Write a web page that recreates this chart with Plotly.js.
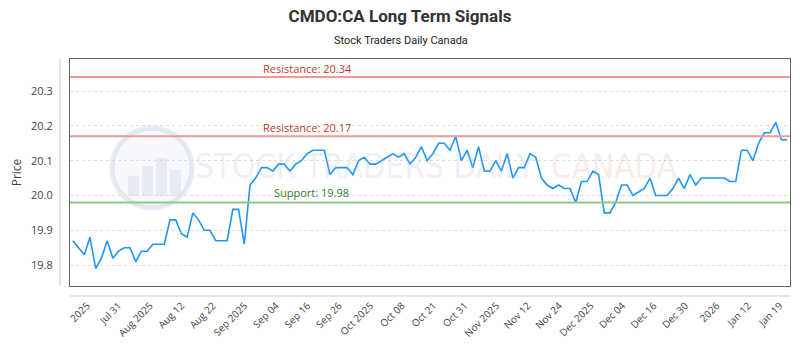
<!DOCTYPE html>
<html>
<head>
<meta charset="utf-8">
<script src="https://cdn.plot.ly/plotly-3.0.1.min.js"></script>
<style>html,body{margin:0;padding:0;background:#fff;}#chart{width:800px;height:350px;}</style>
</head>
<body>
<div id="chart"></div>
<script>
// ---- data ----
const prices = [19.87,19.85,19.83,19.88,19.79,19.82,19.87,19.82,19.84,19.85,19.85,19.81,19.84,19.84,19.86,19.86,19.86,19.93,19.93,19.89,19.88,19.95,19.93,19.90,19.90,19.87,19.87,19.87,19.96,19.96,19.86,
20.03,20.05,20.08,20.08,20.07,20.09,20.09,20.07,20.09,20.10,20.12,20.13,20.13,20.13,20.06,20.08,20.08,20.08,20.06,20.10,20.11,20.09,20.09,20.10,20.11,20.12,20.11,20.12,20.09,20.11,20.14,20.10,
20.12,20.15,20.15,20.13,20.17,20.10,20.13,20.08,20.14,20.07,20.07,20.10,20.07,20.12,20.05,20.08,20.08,20.12,20.11,20.05,20.03,20.02,20.03,20.02,20.02,19.98,20.04,20.04,20.07,20.06,19.95,19.95,
19.98,20.03,20.03,20.00,20.01,20.02,20.05,20.00,20.00,20.00,20.02,20.05,20.02,20.06,20.03,20.05,20.05,20.05,20.05,20.05,20.04,20.04,20.13,20.13,20.10,20.15,20.18,20.18,20.21,20.16,20.16];
const tickLabels = ["2025","Jul 31","Aug 2025","Aug 12","Aug 22","Sep 2025","Sep 04","Sep 16","Sep 26","Oct 2025","Oct 08","Oct 21","Oct 31","Nov 2025","Nov 12","Nov 24","Dec 2025","Dec 04","Dec 16","Dec 30","2026","Jan 12","Jan 19"];
const resistanceLevels = [20.34, 20.17];
const supportLevels = [19.98];
const yTicks = [19.8, 19.9, 20.0, 20.1, 20.2, 20.3];

// ---- layout helpers ----
const W = 800, H = 350, ML = 70, MR = 10, MT = 59, MB = 64;
const PW = W - ML - MR, PH = H - MT - MB;
const px = x => (x - ML) / PW;          // pixel -> paper x
const py = y => (H - MB - y) / PH;      // pixel -> paper y

const xIdx = prices.map((_, i) => i);
const tickFirst = 2.5, tickStep = (prices.length - 2.3 - tickFirst) / (tickLabels.length - 1);
const tickVals = tickLabels.map((_, i) => tickFirst + i * tickStep);

const shapes = [];
const annotations = [];

// offset axis lines
shapes.push({type:'line', xref:'paper', yref:'paper', x0:px(60), x1:px(60), y0:0, y1:1, line:{color:'#cccccc', width:1}});
shapes.push({type:'line', xref:'paper', yref:'paper', x0:0, x1:1, y0:py(296), y1:py(296), line:{color:'#cccccc', width:1}});

// watermark logo
shapes.push({type:'circle', xref:'paper', yref:'paper', layer:'below', x0:px(112), x1:px(192), y0:py(208), y1:py(128),
  line:{color:'rgba(200,210,230,0.45)', width:5}, fillcolor:'rgba(230,236,246,0.35)'});
[[128,176,139],[142,166,153],[156,158,167],[170,170,181]].forEach(b => {
  shapes.push({type:'rect', xref:'paper', yref:'paper', layer:'below', x0:px(b[0]), x1:px(b[2]), y0:py(196), y1:py(b[1]),
    line:{width:0}, fillcolor:'rgba(200,210,230,0.35)'});
});
annotations.push({xref:'paper', yref:'paper', x:px(365), y:py(166), text:'STOCK TRADERS DAILY', showarrow:false,
  font:{family:'Liberation Sans Narrow, DejaVu Sans Condensed, sans-serif', size:33, color:'rgba(175,190,215,0.22)'}, xanchor:'center', yanchor:'middle'});
annotations.push({xref:'paper', yref:'paper', x:px(614), y:py(166), text:'CANADA', showarrow:false,
  font:{family:'Liberation Sans Narrow, DejaVu Sans Condensed, sans-serif', size:33, color:'rgba(240,130,130,0.18)'}, xanchor:'center', yanchor:'middle'});

resistanceLevels.forEach(v => {
  shapes.push({type:'line', xref:'paper', yref:'y', x0:0, x1:1, y0:v, y1:v, line:{color:'#ef9a93', width:2}});
  annotations.push({xref:'paper', yref:'y', x:px(307), y:v, yshift:9, text:'Resistance: ' + v.toFixed(2), showarrow:false,
    font:{family:'Open Sans, sans-serif', size:11, color:'#c0392b'}, xanchor:'center', yanchor:'middle'});
});
supportLevels.forEach(v => {
  shapes.push({type:'line', xref:'paper', yref:'y', x0:0, x1:1, y0:v, y1:v, line:{color:'#8cc78c', width:2}});
  annotations.push({xref:'paper', yref:'y', x:px(311), y:v, yshift:10, text:'Support: ' + v.toFixed(2), showarrow:false,
    font:{family:'Open Sans, sans-serif', size:11, color:'#2e7d32'}, xanchor:'center', yanchor:'middle'});
});

// subtitle
annotations.push({xref:'paper', yref:'paper', x:px(401), y:py(40), text:'Stock Traders Daily Canada', showarrow:false,
  font:{family:'Roboto, sans-serif', size:11, color:'#222'}, xanchor:'center', yanchor:'middle'});

const trace = {
  x: xIdx, y: prices, type:'scatter', mode:'lines',
  line:{color:'#2196f3', width:1.6}, hoverinfo:'skip'
};

const layout = {
  width: W, height: H,
  margin:{l:ML, r:MR, t:MT, b:MB, pad:0},
  paper_bgcolor:'#fff', plot_bgcolor:'#fff',
  showlegend:false,
  title:{text:'CMDO:CA Long Term Signals', font:{family:'Roboto, sans-serif', size:17, color:'#333', weight:'bold'},
    xref:'container', x:0.5, xanchor:'center', yref:'container', y:1 - 16/H, yanchor:'middle'},
  xaxis:{range:[-0.5, prices.length - 0.5], tickmode:'array', tickvals:tickVals, ticktext:tickLabels,
    tickangle:-45, ticks:'', showgrid:false, zeroline:false,
    showline:true, mirror:true, linecolor:'#666', linewidth:1,
    tickfont:{family:'Open Sans, sans-serif', size:10, color:'#444'}, ticklabelstandoff:9},
  yaxis:{range:[19.74, 20.392], tickmode:'array', tickvals:yTicks, ticktext:yTicks.map(v => v.toFixed(1)),
    ticks:'', showgrid:true, gridcolor:'#dddddd', griddash:'dot', zeroline:false,
    showline:true, mirror:true, linecolor:'#666', linewidth:1,
    tickfont:{family:'Open Sans, sans-serif', size:11, color:'#444'}, ticklabelstandoff:14,
    title:{text:'Price', font:{family:'Open Sans, sans-serif', size:12, color:'#444'}, standoff:6}},
  shapes: shapes,
  annotations: annotations
};

Plotly.newPlot('chart', [trace], layout, {displayModeBar:false, staticPlot:true});
</script>
</body>
</html>
